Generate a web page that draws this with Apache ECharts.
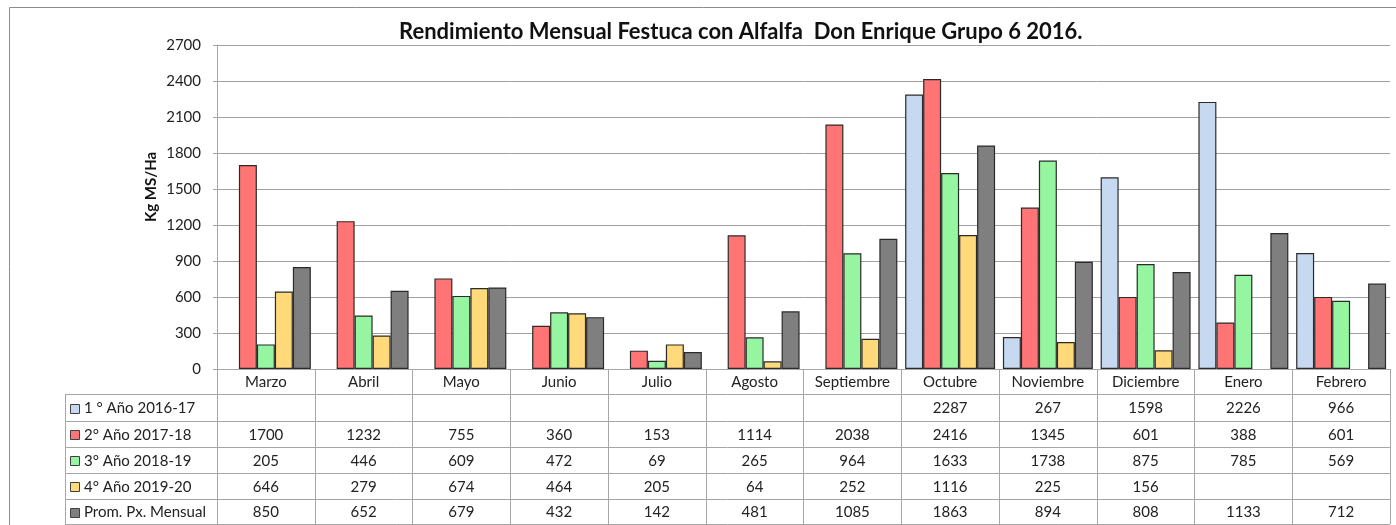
<!DOCTYPE html>
<html>
<head>
<meta charset="utf-8">
<script src="https://cdn.jsdelivr.net/npm/echarts@6/dist/echarts.min.js"></script>
<style>
  html, body { margin: 0; padding: 0; background: #fff; }
  #main { width: 1396px; height: 525px; }
</style>
</head>
<body>
<div id="main"></div>
<script>
const months = ['Marzo', 'Abril', 'Mayo', 'Junio', 'Julio', 'Agosto', 'Septiembre', 'Octubre', 'Noviembre', 'Diciembre', 'Enero', 'Febrero'];
const seriesNames = ['1 ° Año 2016-17', '2° Año 2017-18', '3° Año 2018-19', '4° Año 2019-20', 'Prom. Px. Mensual'];
const colors = ['#C6D9F1', '#FF7474', '#96F5A0', '#FFD97A', '#7F7F7F'];

const year1 = [null, null, null, null, null, null, null, 2287, 267, 1598, 2226, 966];
const year2 = [1700, 1232, 755, 360, 153, 1114, 2038, 2416, 1345, 601, 388, 601];
const year3 = [205, 446, 609, 472, 69, 265, 964, 1633, 1738, 875, 785, 569];
const year4 = [646, 279, 674, 464, 205, 64, 252, 1116, 225, 156, null, null];
const promedio = [850, 652, 679, 432, 142, 481, 1085, 1863, 894, 808, 1133, 712];
const allSeries = [year1, year2, year3, year4, promedio];

const yTicks = { min: 0, max: 2700, step: 300 };

// layout
const L = 217, R = 1390, T = 45, B = 369;
const cw = (R - L) / months.length;
const rowLines = [394, 421, 447, 473, 499, 524];
const legendLeft = 65;
const fontFam = 'Lato, "Open Sans", sans-serif';
const lineCol = '#a6a6a6';

const chart = echarts.init(document.getElementById('main'));

const graphics = [];
// outer frame
graphics.push({
  type: 'rect', z: 0, silent: true,
  shape: { x: 9.5, y: 7.5, width: 1400, height: 540 },
  style: { fill: 'none', stroke: '#8c8c8c', lineWidth: 1 }
});
// table horizontal lines
rowLines.forEach(y => {
  graphics.push({
    type: 'line', z: 5, silent: true,
    shape: { x1: legendLeft, y1: y + 0.5, x2: R, y2: y + 0.5 },
    style: { stroke: lineCol, lineWidth: 1 }
  });
});
// legend column left border
graphics.push({
  type: 'line', z: 5, silent: true,
  shape: { x1: legendLeft + 0.5, y1: rowLines[0], x2: legendLeft + 0.5, y2: rowLines[rowLines.length - 1] },
  style: { stroke: lineCol, lineWidth: 1 }
});
// legend keys and values
allSeries.forEach((vals, r) => {
  const cy = (rowLines[r] + rowLines[r + 1]) / 2 + 1;
  graphics.push({
    type: 'rect', z: 6, silent: true,
    shape: { x: 70.5, y: Math.round(cy - 5) + 0.5, width: 9, height: 9 },
    style: { fill: colors[r], stroke: '#404040', lineWidth: 1 }
  });
  graphics.push({
    type: 'text', z: 6, silent: true,
    x: 84, y: cy,
    style: { text: seriesNames[r], font: '15px ' + fontFam, fill: '#222', verticalAlign: 'middle', align: 'left' }
  });
  vals.forEach((v, i) => {
    if (v === null) return;
    graphics.push({
      type: 'text', z: 6, silent: true,
      x: L + (i + 0.5) * cw, y: cy,
      style: { text: String(v), font: '15px ' + fontFam, fill: '#222', verticalAlign: 'middle', align: 'center' }
    });
  });
});
// y axis name
graphics.push({
  type: 'text', z: 6, silent: true,
  x: 151, y: 187, rotation: Math.PI / 2,
  style: { text: 'Kg MS/Ha', font: 'bold 15px ' + fontFam, fill: '#111', align: 'center', verticalAlign: 'middle' }
});

const option = {
  animation: false,
  backgroundColor: '#fff',
  title: {
    text: 'Rendimiento Mensual Festuca con Alfalfa  Don Enrique Grupo 6 2016.',
    left: 394, top: 16,
    textStyle: { fontFamily: fontFam, fontSize: 22, fontWeight: 'bold', color: '#111' }
  },
  grid: { left: L, right: 1396 - R, top: T, bottom: 525 - B, containLabel: false },
  xAxis: {
    type: 'category',
    data: months,
    axisLine: { show: true, lineStyle: { color: lineCol, width: 1 } },
    axisTick: { show: true, interval: 0, length: rowLines[rowLines.length - 1] - B, lineStyle: { color: lineCol } },
    axisLabel: { interval: 0, margin: 6, fontFamily: fontFam, fontSize: 15, color: '#222' }
  },
  yAxis: {
    type: 'value',
    min: yTicks.min, max: yTicks.max, interval: yTicks.step,
    axisLine: { show: true, lineStyle: { color: lineCol } },
    axisTick: { show: true, length: 4, lineStyle: { color: lineCol } },
    axisLabel: { fontFamily: fontFam, fontSize: 15, color: '#222', margin: 16, formatter: v => String(v) },
    splitLine: { lineStyle: { color: '#a0a0a0', width: 1 } }
  },
  series: allSeries.map((vals, k) => ({
    name: seriesNames[k],
    type: 'bar',
    data: vals,
    barGap: '0%',
    barCategoryGap: '8%',
    itemStyle: { color: colors[k], borderColor: '#2b2b2b', borderWidth: 1.2 }
  })),
  graphic: graphics
};

chart.setOption(option);
</script>
</body>
</html>
